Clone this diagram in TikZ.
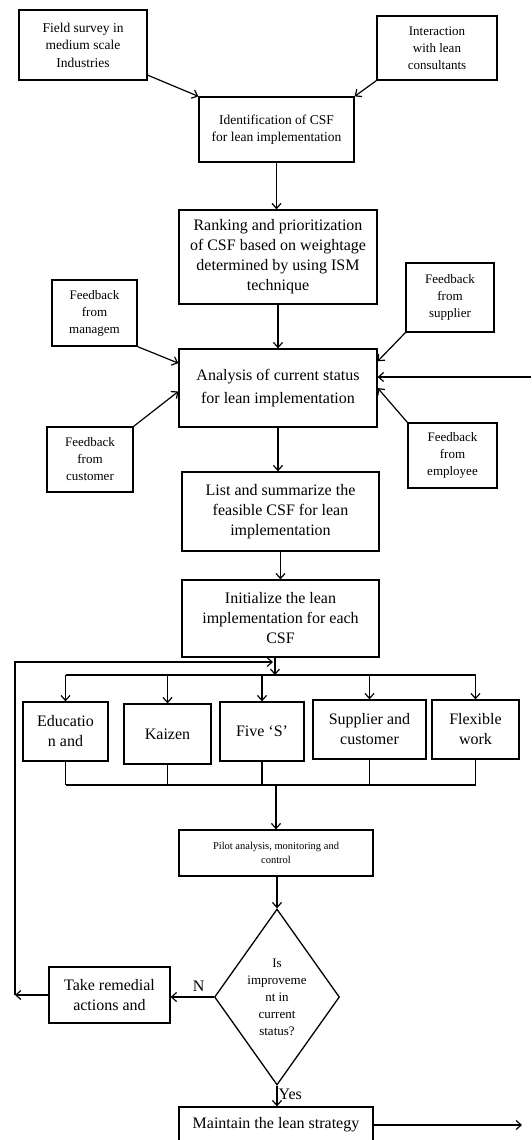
\documentclass[tikz,border=0pt]{standalone}
\usepackage{fontspec}
\setmainfont{Liberation Serif}
\usetikzlibrary{arrows.meta,shapes.geometric}

\begin{document}
\begin{tikzpicture}[x=1pt, y=-1pt,
  box/.style={draw, line width=1.3pt, align=center, inner sep=1pt},
  bigtxt/.style={font=\fontsize{16}{20}\selectfont},
  midtxt/.style={font=\fontsize{13.5}{17.5}\selectfont},
  smalltxt/.style={font=\fontsize{13}{17}\selectfont},
  tinytxt/.style={font=\fontsize{10.5}{14}\selectfont},
  arr/.style={line width=1.2pt, -{Straight Barb[length=5pt,width=9pt]}},
  ln/.style={line width=1.2pt},
  lbl/.style={font=\fontsize{16}{20}\selectfont, inner sep=1pt}]
\useasboundingbox (0,0) rectangle (531,1140);
% inputs
\node[box, midtxt, minimum width=128pt, minimum height=70pt] (field) at (83,45)
  {Field survey in\\medium scale\\Industries};
\node[box, smalltxt, minimum width=120pt, minimum height=64pt] (interact) at (437,48)
  {Interaction\\with lean\\consultants};
% main column
\node[box, midtxt, minimum width=155pt, minimum height=65pt] (ident) at (276.5,129.5)
  {Identification of CSF\\for lean implementation};
\node[box, bigtxt, minimum width=198pt, minimum height=94pt] (rank) at (278,257)
  {Ranking and prioritization\\of CSF based on weightage\\determined by using ISM\\technique};
\node[box, font=\fontsize{16}{23}\selectfont, minimum width=198pt, minimum height=78pt] (analysis) at (278,388)
  {Analysis of current status\\for lean implementation};
\node[box, bigtxt, minimum width=197pt, minimum height=79pt] (list) at (280.5,511.5)
  {List and summarize the\\feasible CSF for lean\\implementation};
\node[box, bigtxt, minimum width=197pt, minimum height=77pt] (init) at (280.5,618.5)
  {Initialize the lean\\implementation for each\\CSF};
% feedback boxes
\node[box, smalltxt, minimum width=85pt, minimum height=66pt] (fbman) at (94.5,313)
  {Feedback\\from\\managem};
\node[box, smalltxt, minimum width=88pt, minimum height=69pt] (fbsup) at (450,297.5)
  {Feedback\\from\\supplier};
\node[box, smalltxt, minimum width=86pt, minimum height=65pt] (fbcus) at (90,459.5)
  {Feedback\\from\\customer};
\node[box, smalltxt, minimum width=89pt, minimum height=65pt] (fbemp) at (452.5,455.5)
  {Feedback\\from\\employee};
% CSF boxes
\node[box, bigtxt, minimum width=85pt, minimum height=59pt] (edu) at (65.5,731.5) {Educatio\\n and};
\node[box, bigtxt, minimum width=87pt, minimum height=60pt] (kaizen) at (167.5,734) {Kaizen};
\node[box, bigtxt, minimum width=84pt, minimum height=59pt] (fives) at (262,731.5) {Five `S'};
\node[box, bigtxt, minimum width=113pt, minimum height=59pt] (supcus) at (369.5,729.5) {Supplier and\\customer};
\node[box, bigtxt, minimum width=87pt, minimum height=59pt] (flex) at (475.5,729.5) {Flexible\\work};
% checking loop
\node[box, tinytxt, minimum width=194pt, minimum height=46pt] (pilot) at (276,853)
  {Pilot analysis, monitoring and\\control};
\node[draw, line width=1.3pt, diamond, aspect=0.71, inner sep=0pt, minimum width=125pt,
  minimum height=176pt, align=center, smalltxt] (dec) at (277,997)
  {Is\\improveme\\nt in\\current\\status?};
\node[box, bigtxt, minimum width=121pt, minimum height=56pt] (remedial) at (109.5,995)
  {Take remedial\\actions and};
\node[box, bigtxt, minimum width=194pt, minimum height=36pt] (maintain) at (276,1125)
  {Maintain the lean strategy};
% helper points
\coordinate (extin) at (531,377);
\coordinate (split) at (275,675);
\coordinate (merge) at (276,785);
\coordinate (loopb) at (15,995);
\coordinate (loopt) at (273,662);
\coordinate (out) at (522,1125);
% connectors
\draw[arr] (field.-25) -- (ident.north west);
\draw[arr] (interact.south west) -- (ident.north east);
\draw[arr] (ident.south) -- (ident.south |- rank.north);
\draw[arr] (rank.south) -- (analysis.north);
\draw[arr] (fbman.south east) -- (analysis.166);
\draw[arr] (fbsup.south west) -- (analysis.15);
\draw[arr] (extin) -- (extin -| analysis.east);
\draw[arr] (fbcus.north east) -- (analysis.182);
\draw[arr] (fbemp.north west) -- (analysis.east);
\draw[arr] (analysis.south) -- (analysis.south |- list.north);
\draw[arr] (list.south) -- (init.north);
\draw[arr] (init.south -| split) -- (split);
\draw[ln] (split -| edu.north) -- (split -| flex.north);
\foreach \b in {edu,kaizen,fives,supcus,flex}
  \draw[arr] (split -| \b.north) -- (\b.north);
\foreach \b in {edu,kaizen,fives,supcus,flex}
  \draw[ln] (\b.south) -- (\b.south |- merge);
\draw[ln] (edu.south |- merge) -- (flex.south |- merge);
\draw[arr] (merge) -- (merge |- pilot.north);
\draw[arr] (pilot.south -| dec.north) -- (dec.north);
\draw[arr] (dec.west) -- node[above, lbl, pos=0.35, yshift=4pt] {N} (dec.west -| remedial.east);
\draw[arr] (remedial.west) -- (loopb);
\draw[arr] (loopb) |- (loopt);
\draw[arr] (dec.south) -- node[right, lbl, pos=0.4] {Yes} (dec.south |- maintain.north);
\draw[arr] (maintain.east) -- (out);
\end{tikzpicture}
\end{document}
